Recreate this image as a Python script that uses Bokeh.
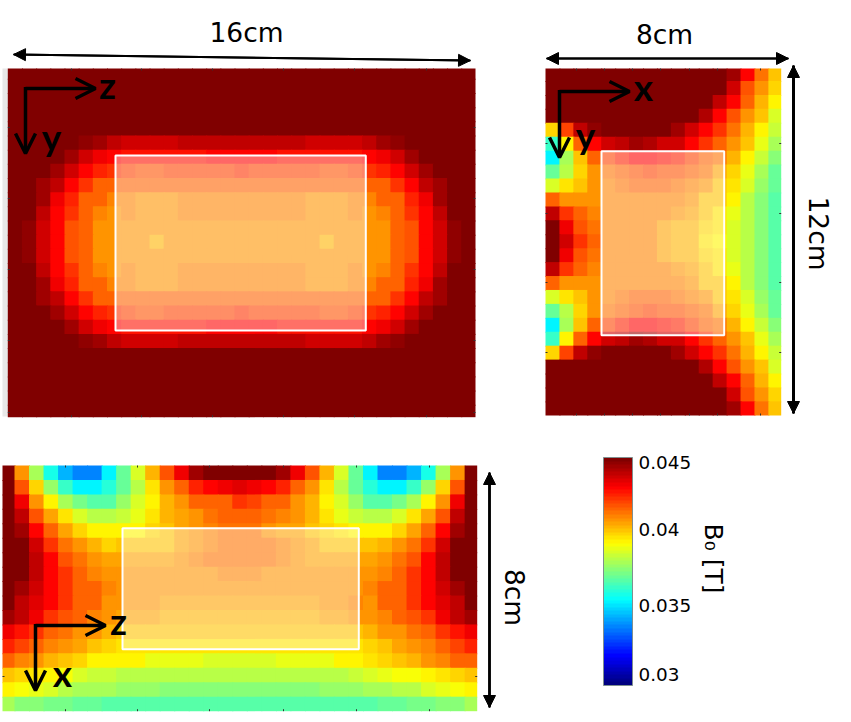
from bokeh.plotting import figure
from bokeh.embed import file_html
from bokeh.resources import INLINE
from bokeh.models import (Range1d, LinearColorMapper, ColorBar, FixedTicker, Arrow,
                          OpenHead, NormalHead, ColumnDataSource)
from bokeh.core.properties import value
import math

D = 45.0
# ---- Panel A (y-z plane): field in mT, 25 rows of 33 cells
A5 = [D,D,D,D,D,44.6,44.3,44,43.7,43.7,43.7,43.7,44,44,44,44,44,44,44,44,44,43.7,43.7,43.7,43.7,44,44.3,44.6,D,D,D,D,D]
A6 = [D,D,D,D,44.4,43.7,43.3,43,42.8,42.8,42.8,42.8,42.8,42.8,43,43,43,43,43,42.8,42.8,42.8,42.8,42.8,42.8,43,43.3,43.7,44.4,D,D,D,D]
A7 = [D,D,D,44.4,43.7,43,42.5,42.2,42.1,41.9,41.9,42.1,42.1,42.1,42.1,42.1,42.3,42.1,42.1,42.1,42.1,42.1,41.9,41.9,42.1,42.2,42.5,43,43.7,44.4,D,D,D]
A8 = [D,D,44.5,44,43,42.2,41.6,41.7,41.5,41.5,41.5,41.5,41.5,41.7,41.7,41.7,41.7,41.7,41.7,41.7,41.5,41.5,41.5,41.5,41.5,41.7,41.6,42.2,43,44,44.5,D,D]
A9 = [D,D,44.3,43.3,42.5,41.7,41.5,41.1,41.1,41,41,41,41.2,41.2,41.2,41.2,41.2,41.2,41.2,41.2,41.2,41,41,41,41.1,41.1,41.5,41.7,42.5,43.3,44.3,D,D]
A10 = [D,D,44,43,42.2,41.6,41.2,41,41.1,41,41,41,41.2,41.2,41.2,41.2,41.2,41.2,41.2,41.2,41.2,41,41,41,41.1,41,41.2,41.6,42.2,43,44,D,D]
A11 = [D,44.7,43.7,43,41.95,41.6,41,40.9,40.8,40.8,40.8,40.8,40.8,40.8,40.8,41,41,41,40.8,40.8,40.8,40.8,40.8,40.8,40.8,40.9,41,41.6,41.95,43,43.7,44.7,D]
A12 = [D,44.7,43.7,43,41.95,41.6,41,40.9,40.8,40.8,40.4,40.8,40.8,40.8,40.8,40.8,41,40.8,40.8,40.8,40.8,40.8,40.4,40.8,40.8,40.9,41,41.6,41.95,43,43.7,44.7,D]
AD = [D] * 33
PANEL_A = [AD,AD,AD,AD,AD,A5,A6,A7,A8,A9,A10,A11,A12,A11,A10,A9,A8,A7,A6,A5,AD,AD,AD,AD,AD]

# ---- Panel B (x-y plane): 25 rows of 17 cells
B0 = [D,D,D,D,D,D,D,D,D,D,D,D,D,44.5,43,41.3,40.3]
B1 = [D,D,D,D,D,D,D,D,D,D,D,D,44.8,43.6,41.95,40.9,40]
B2 = [D,D,D,D,D,D,D,D,D,D,D,D,44,43,41.5,40.4,39.4]
B3 = [D,D,D,D,D,D,D,D,D,D,D,44.1,43,41.95,41,40.1,38.8]
B4 = [40,42.1,43.9,44.7,D,D,D,D,D,44.5,43.8,43,42.2,41.4,40.5,39.6,38.5]
B5 = [36.5,39.4,41.6,43,43.7,44,44.5,44.2,43.8,43.6,43,42.3,41.5,40.9,40.2,39.1,38]
B6 = [35.6,38,40.3,41.5,42.1,42.6,42.9,42.9,42.7,42.5,42.1,41.7,41.3,40.4,39.6,38.6,37.7]
B7 = [37.1,38.4,40,40.9,41.3,41.7,41.9,42.1,41.9,41.8,41.6,41.3,40.7,40,39.1,38.1,37.2]
B8 = [38.9,39.7,40.3,40.9,41.1,41.3,41.6,41.6,41.6,41.4,41.1,40.9,40.3,39.8,38.7,37.9,37.1]
B9 = [41.6,41,41,41,41.1,41.2,41.2,41.2,41.2,41.1,40.9,40.3,40.1,39.4,38.4,37.7,37]
B10 = [44,42.4,41.5,41.1,41.2,41.1,41.1,41.1,41.1,40.9,40.7,40.1,39.8,39,38.4,37.7,37]
B11 = [D,43.3,41.95,41.4,41.2,41.1,41.1,41.1,40.7,40.5,40.4,39.9,39.7,38.8,38.3,37.6,36.9]
B12 = [D,43.6,42.2,41.5,41.2,41.2,41.2,41.2,40.7,40.5,40.4,39.7,39.4,38.8,38.3,37.6,36.9]
PANEL_B = [B0,B1,B2,B3,B4,B5,B6,B7,B8,B9,B10,B11,B12,B11,B10,B9,B8,B7,B6,B5,B4,B3,B2,B1,B0]

# ---- Panel C (x-z plane): 17 rows of 33 cells
C0 = [44.8,41,38.2,36,34.6,33.9,33.9,35.4,37.2,38.8,40.4,41.95,43.3,44.4,D,D,D,D,D,44.4,43.3,41.95,40.4,38.8,37.2,35.4,33.9,33.9,34.6,36,38.2,41,D]
C1 = [D,41.85,40,37.9,36.4,35.6,35.5,36.2,37.2,38.4,39.8,40.9,41.7,42.5,43,43.2,43.4,43.2,43,42.5,41.7,40.9,39.8,38.4,37.2,36.2,35.5,35.6,36.4,37.9,40,41.85,D]
C2 = [D,43.3,41,39.4,38,37.3,37,37,37.8,38.8,39.5,40.4,41,41.5,41.5,41.7,42.2,42,41.7,41.5,41,40.4,39.5,38.8,37.8,37,37,37.3,38,39.4,41,43.3,D]
C3 = [D,44,41.95,40.6,39.8,38.7,38.4,38.4,38.6,39.1,39.8,40.4,40.6,41,41.3,41.5,41.5,41.5,41.4,41.1,41,40.4,39.8,39.1,38.6,38.4,38.4,38.7,39.8,40.6,41.95,44,D]
C4 = [D,44.5,43,41.6,40.6,40,39.5,39.5,39.5,39.6,40,40.3,40.6,40.9,41.1,41.3,41.3,41.3,41,40.7,40.6,40.3,40,39.7,39.5,39.5,39.5,40,40.6,41.6,43,44.5,D]
C5 = [D,D,43.7,42.4,41.25,40.8,40.4,40,40.1,40.1,40.1,40.3,40.6,41,41.2,41.3,41.3,41.3,41.3,41.2,40.8,40.6,40.3,40.1,40.1,40.1,40.4,40.8,41.25,42.4,43.7,D,D]
C6 = [D,D,43.9,43.1,41.95,41.3,41,40.6,40.7,40.6,40.6,40.7,41,41.2,41.3,41.3,41.3,41.3,41.3,41.1,41,40.7,40.6,40.6,40.7,40.6,41,41.3,41.95,43.1,43.9,D,D]
C7 = [D,44.8,43.9,43.1,42.2,41.7,41.2,41,40.9,40.9,40.9,40.9,40.9,40.9,40.9,41.1,41.1,41.1,40.9,40.9,40.9,40.9,40.9,40.9,40.9,41,41.2,41.7,42.2,43.1,43.9,44.8,D]
C8 = [D,44.5,43.6,43,42.4,41.7,41.5,41.2,40.9,40.9,40.9,40.9,40.9,40.9,40.9,40.9,40.9,40.9,40.9,40.9,40.9,40.9,40.9,40.9,41,41.2,41.5,41.7,42.4,43,43.6,44.5,D]
C9 = [D,44,43.5,42.9,42.2,41.7,41.5,41,40.9,40.9,40.9,40.7,40.7,40.7,40.7,40.7,40.7,40.7,40.7,40.7,40.7,40.7,40.9,40.9,41.1,41,41.5,41.7,42.2,42.9,43.5,44,D]
C10 = [44.4,44,43.3,42.4,41.95,41.5,41.2,40.9,40.7,40.7,40.7,40.4,40.4,40.4,40.4,40.4,40.4,40.4,40.4,40.4,40.4,40.4,40.7,40.7,40.8,40.9,41.2,41.5,41.95,42.4,43.3,44,44.4]
C11 = [43.3,42.8,42.2,41.6,41.4,41,40.8,40.4,40.3,40.3,40.1,40.1,40.1,40.1,40.1,40.1,40.1,40.1,40.1,40.1,40.1,40.1,40.1,40.3,40.3,40.4,40.8,41,41.4,41.6,42.2,42.8,43.3]
C12 = [42.5,42.1,41.6,41.2,41,40.6,40.3,40,39.7,39.7,39.7,39.7,39.7,39.7,39.7,39.7,39.7,39.7,39.7,39.7,39.7,39.7,39.7,39.7,39.7,40,40.3,40.6,41,41.2,41.6,42.1,42.5]
C13 = [41.5,41.2,40.8,40.5,40.3,39.9,39.6,39.6,39.4,39.4,39.1,39.1,39.1,39.1,38.8,38.8,38.8,38.8,38.8,39.1,39.1,39.1,39.1,39.4,39.4,39.7,39.9,40.3,40.5,40.8,41.2,41.5,41.5]
C14 = [40.3,40,39.7,39.4,39.3,38.9,38.6,38.5,38.3,38.3,38.3,38.3,38.3,38.3,38.3,38.3,38.3,38.3,38.3,38.3,38.3,38.3,38.3,38.3,38.5,38.8,39,39.2,39.3,39.4,39.7,40,40.3]
C15 = [39.4,39.2,39,38.7,38.4,38.2,38,38,37.9,37.9,37.9,37.7,37.7,37.7,37.7,37.7,37.7,37.7,37.7,37.7,37.7,37.7,37.9,37.9,37.9,38.1,38.2,38.3,38.4,38.7,39,39.2,39.4]
C16 = [38,37.7,37.7,37.4,37.4,37.2,37.2,37,37,36.8,36.8,36.8,36.8,36.8,36.8,36.8,36.8,36.8,36.8,36.8,36.8,36.8,36.8,36.8,37,37,37.2,37.2,37.4,37.4,37.7,37.7,38]
PANEL_C = [C0,C1,C2,C3,C4,C5,C6,C7,C8,C9,C10,C11,C12,C13,C14,C15,C16]

CB_LABELS = ["0.03", "0.035", "0.04", "0.045"]


def jet(n):
    def c(v):
        return max(0.0, min(1.0, 1.5 - abs(4 * v)))
    out = []
    for i in range(n):
        t = i / (n - 1)
        r = c(t - 0.75); g = c(t - 0.5); b = c(t - 0.25)
        out.append("#%02x%02x%02x" % (round(r * 255), round(g * 255), round(b * 255)))
    return out


mapper = LinearColorMapper(palette=jet(64), low=30, high=45)

W, H = 843, 714
p = figure(width=W, height=H, x_range=Range1d(0, W), y_range=Range1d(H, 0),
           output_backend="svg", toolbar_location=None, min_border=0)
p.xaxis.visible = False
p.yaxis.visible = False
p.xgrid.visible = False
p.ygrid.visible = False
p.outline_line_color = None


def heat(rows, ox, oy, cw, ch, x0, x1, y0, y1):
    # Each cell overlaps its right and lower neighbour slightly; the later cell paints over it,
    # which closes the hairline seams between anti-aliased rectangles.
    left, right, top, bottom, val = [], [], [], [], []
    for j, row in enumerate(rows):
        assert len(row) == len(rows[0]), (j, len(row))
        for i, v in enumerate(row):
            left.append(max(x0, ox + i * cw)); right.append(min(x1, ox + (i + 1) * cw + 1))
            top.append(max(y0, oy + j * ch)); bottom.append(min(y1, oy + (j + 1) * ch + 1))
            val.append(v)
    src = ColumnDataSource(dict(left=left, right=right, top=top, bottom=bottom, v=val))
    tr = {"field": "v", "transform": mapper}
    p.quad(left="left", right="right", top="top", bottom="bottom", source=src,
           fill_color=tr, line_color=None)


def ticks(xs, ys, x0, x1, y0, y1):
    for x in xs:
        p.segment([x, x], [y0, y1 - 2], [x, x], [y0 + 2, y1], line_color="#333333", line_width=1)
    for y in ys:
        p.segment([x0, x1 - 2], [y, y], [x0 + 2, x1], [y, y], line_color="#333333", line_width=1)


# panels
p.quad(left=[2], right=[8], top=[68], bottom=[416], fill_color="#e8e8e8", line_color=None)
heat(PANEL_A, 7.3, 135 - 5 * 14.17, 14.17, 14.17, 7.3, 475, 68, 416.7)
heat(PANEL_B, 545, 122.3 - 4 * 13.93, 13.93, 13.93, 545, 780.7, 68, 415)
heat(PANEL_C, 14 - 14.52, 465, 14.52, 14.45, 2, 476.7, 465, 710.7)

ticks([71, 141, 212, 283, 354, 426], [127, 198, 269, 340, 412], 7.3, 475, 68, 416.7)
ticks([576, 604, 632, 660, 689, 717, 760], [143, 213, 282, 352], 545, 780.7, 68, 415)
ticks([65, 137, 209, 283, 356, 429], [676], 2, 476.7, 465, 710.7)

# selection rectangles
for (l, r, t, b) in [(115, 365.3, 155, 330), (601, 723.7, 150.7, 334.7), (122, 358.3, 527.7, 648.7)]:
    p.quad(left=[l], right=[r], top=[t], bottom=[b], fill_color="white", fill_alpha=0.4,
           line_color="white", line_width=2)


def dbl(x0, y0, x1, y1, lw):
    for (a, b, c, d) in [(x0, y0, x1, y1), (x1, y1, x0, y0)]:
        p.add_layout(Arrow(x_start=a, y_start=b, x_end=c, y_end=d, line_width=lw, line_color="black",
                           end=NormalHead(size=12, fill_color="black", line_color="black", line_width=1),
                           start=None))


dbl(13, 54, 470, 60, 2)
dbl(546, 58, 788, 58, 2)
dbl(793, 65, 793, 413, 3)
dbl(489, 472, 489, 707, 2.5)


def axes(cx, cy, tx, ty):
    head = lambda: OpenHead(size=20, line_width=3.5, line_color="black")
    p.add_layout(Arrow(x_start=cx, y_start=cy, x_end=tx, y_end=cy, line_width=3.5, line_color="black", end=head(), start=None))
    p.add_layout(Arrow(x_start=cx, y_start=cy - 1.5, x_end=cx, y_end=ty, line_width=3.5, line_color="black", end=head(), start=None))


axes(25, 88, 95, 153)
axes(559, 91, 629, 157)
axes(35, 625, 105, 690)

for (x, y, t) in [(107, 84, "z"), (51, 136, "y"), (643, 86, "x"), (585, 134, "y"), (118, 620, "z"), (62, 672, "x")]:
    p.text(x=[x], y=[y], text=[t], text_font=value("Lato"), text_font_style="bold", text_font_size="37px",
           text_align="center", text_baseline="middle", text_color="black")

for (x, y, t, a) in [(246, 32, "16cm", 0), (664, 34, "8cm", 0), (818, 233, "12cm", -math.pi / 2), (514, 597, "8cm", -math.pi / 2)]:
    p.text(x=[x], y=[y], text=[t], angle=[a], text_font=value("DejaVu Sans"), text_font_size="26.5px",
           text_align="center", text_baseline="middle", text_color="black")

# colour bar
cb = ColorBar(color_mapper=mapper, location=(603, H - 685), width=29, height=228, padding=0,
              ticker=FixedTicker(ticks=[]), major_tick_line_color=None, minor_tick_line_color=None,
              bar_line_color="#7f8f8f", border_line_color=None, background_fill_alpha=0)
p.add_layout(cb, "center")
for y in [532.7, 609]:
    p.segment([630], [y], [632], [y], line_color="black", line_width=1)

for (y, t) in zip([674, 605, 529, 462], CB_LABELS):
    p.text(x=[638], y=[y], text=[t], text_font=value("DejaVu Sans"), text_font_size="18.4px",
           text_align="left", text_baseline="middle", text_color="black")
p.text(x=[713], y=[558], text=["B\u2080 [T]"], angle=[-math.pi / 2], text_font=value("DejaVu Sans"),
       text_font_size="25px", text_align="center", text_baseline="middle", text_color="black")

open("out.html", "w").write(file_html(p, INLINE))
